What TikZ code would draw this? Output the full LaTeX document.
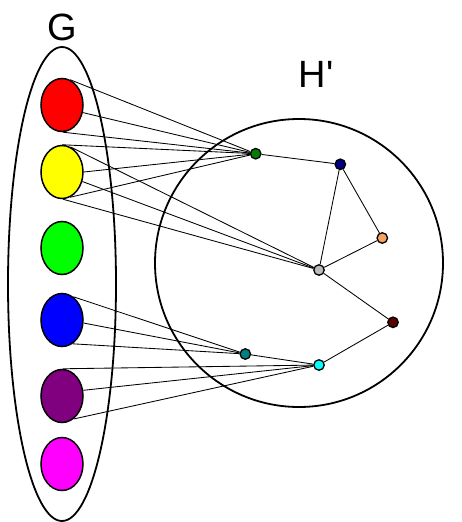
\documentclass[tikz,border=0pt]{standalone}
\usepackage{fontspec}
\setmainfont{Liberation Sans}
\newfontfamily\rawfont{Liberation Sans}
\usetikzlibrary{shapes.geometric}
\definecolor{cRed}{HTML}{FF0000}
\definecolor{cYel}{HTML}{FFFF00}
\definecolor{cGrn}{HTML}{00FF00}
\definecolor{cBlu}{HTML}{0000FF}
\definecolor{cPur}{HTML}{800080}
\definecolor{cMag}{HTML}{FF00FF}
\definecolor{dGreen}{HTML}{008000}
\definecolor{dNavy}{HTML}{000080}
\definecolor{dOrange}{HTML}{F4A460}
\definecolor{dGray}{HTML}{BBBBBB}
\definecolor{dMaroon}{HTML}{5A0000}
\definecolor{dTeal}{HTML}{008080}
\definecolor{dCyan}{HTML}{00FFFF}
\begin{document}
\begin{tikzpicture}[x=1pt,y=-1pt,
  bag/.style={ellipse,draw=black,line width=1.5pt,minimum width=42pt,minimum height=53pt,inner sep=0pt},
  vtx/.style={circle,draw=black,line width=1.3pt,minimum size=10.5pt,inner sep=0pt},
  lnk/.style={draw=black,line width=0.85pt},
  lbl/.style={font=\rawfont\fontsize{38}{40}\selectfont,inner sep=0pt}]
\useasboundingbox (0,0) rectangle (462,522);
% containers
\node[ellipse,draw=black,line width=1.8pt,minimum width=108pt,minimum height=474pt,inner sep=0pt] (Gbox) at (62,284) {};
\node[circle,draw=black,line width=1.8pt,minimum size=288pt,inner sep=0pt] (Hbox) at (299,263) {};
\node[lbl] (Glbl) at (62,27) {G};
\node[lbl] (Hlbl) at (316,74) {H'};
% bags
\node[bag,fill=cRed] (red) at (62,105) {};
\node[bag,fill=cYel] (yel) at (62,172) {};
\node[bag,fill=cGrn] (grn) at (62,248) {};
\node[bag,fill=cBlu] (blu) at (62,320) {};
\node[bag,fill=cPur] (pur) at (62,396) {};
\node[bag,fill=cMag] (mag) at (62,464) {};
% vertices of H'
\node[vtx,fill=dGreen] (vg) at (255.7,153.7) {};
\node[vtx,fill=dNavy] (vn) at (340.3,164.3) {};
\node[vtx,fill=dOrange] (vo) at (382.3,238) {};
\node[vtx,fill=dGray] (vy) at (319,270) {};
\node[vtx,fill=dMaroon] (vm) at (393,322.3) {};
\node[vtx,fill=dTeal] (vt) at (245.3,354) {};
\node[vtx,fill=dCyan] (vc) at (319,365) {};
% edges of H'
\draw[lnk] (vg) -- (vn);
\draw[lnk] (vn) -- (vy);
\draw[lnk] (vn) -- (vo);
\draw[lnk] (vo) -- (vy);
\draw[lnk] (vy) -- (vm);
\draw[lnk] (vm) -- (vc);
\draw[lnk] (vt) -- (vc);
% red -> green vertex
\draw[lnk] (red.72) -- (vg);
\draw[lnk] (red.-20) -- (vg);
\draw[lnk] (red.-88) -- (vg);
% yellow -> green vertex
\draw[lnk] (yel.90) -- (vg);
\draw[lnk] (yel.0) -- (vg);
\draw[lnk] (yel.-72) -- (vg);
% yellow -> gray vertex
\draw[lnk] (yel.70) -- (vy);
\draw[lnk] (yel.-25) -- (vy);
\draw[lnk] (yel.-88) -- (vy);
% blue -> teal vertex
\draw[lnk] (blu.64) -- (vt);
\draw[lnk] (blu.-8) -- (vt);
\draw[lnk] (blu.-66) -- (vt);
% purple -> cyan vertex
\draw[lnk] (pur.88) -- (vc);
\draw[lnk] (pur.15) -- (vc);
\draw[lnk] (pur.-63) -- (vc);
\end{tikzpicture}
\end{document}
